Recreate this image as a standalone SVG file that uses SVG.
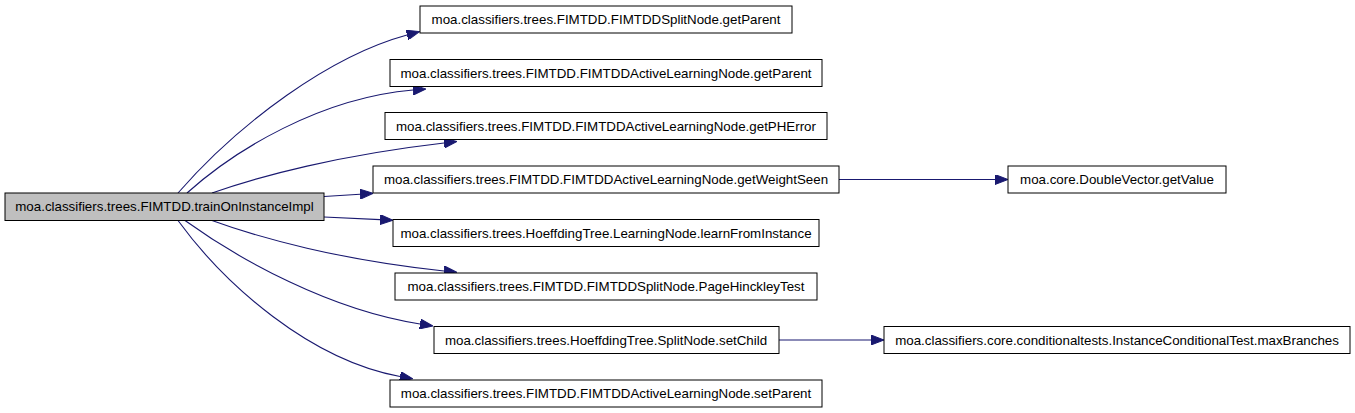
<svg xmlns="http://www.w3.org/2000/svg" width="1355" height="413" viewBox="0 0 1355 413">
<style>
.n rect{fill:#ffffff;stroke:#000000;stroke-width:1}
.root rect{fill:#bfbfbf}
.n text{font-family:"Liberation Sans",Arial,Helvetica,sans-serif;font-size:13.33px;fill:#000000;text-anchor:middle}
.e path{fill:none;stroke:#191970;stroke-width:1.1}
</style>
<defs>
<marker id="ah" markerUnits="userSpaceOnUse" viewBox="0 0 13 10" refX="0" refY="5" markerWidth="13" markerHeight="10" orient="auto">
<path d="M0,0 L13,5 L0,10 Z" fill="#191970" stroke="#191970" stroke-width="1"/>
</marker>
</defs>
<rect width="1355" height="413" fill="#ffffff"/>
<g id="connectors" class="e">
<path d="M178,193 C240,122 330,56 407,35" marker-end="url(#ah)"/>
<path d="M187,193 C235,150 320,98 413,90" marker-end="url(#ah)"/>
<path d="M212,193 C260,176 340,155 444,143" marker-end="url(#ah)"/>
<path d="M324,196.5 L360,194.2" marker-end="url(#ah)"/>
<path d="M324,217 L380,219.6" marker-end="url(#ah)"/>
<path d="M212,220.5 C260,238 340,260 444,271" marker-end="url(#ah)"/>
<path d="M185,220.5 C240,260 330,310 420,324" marker-end="url(#ah)"/>
<path d="M178,220.5 C225,285 310,360 400,376.5" marker-end="url(#ah)"/>
<path d="M839,179.5 L995,179.5" marker-end="url(#ah)"/>
<path d="M779,340 L871,340" marker-end="url(#ah)"/>
</g>
<g id="node-root" class="n root">
<rect x="5" y="193" width="319" height="27.5"/>
<text x="164.5" y="211.3">moa.classifiers.trees.FIMTDD.trainOnInstanceImpl</text>
</g>
<g id="node-split-getParent" class="n">
<rect x="420" y="6" width="372" height="27"/>
<text x="606" y="24">moa.classifiers.trees.FIMTDD.FIMTDDSplitNode.getParent</text>
</g>
<g id="node-active-getParent" class="n">
<rect x="390" y="59.5" width="432" height="27"/>
<text x="606" y="77.5">moa.classifiers.trees.FIMTDD.FIMTDDActiveLearningNode.getParent</text>
</g>
<g id="node-getPHError" class="n">
<rect x="385" y="112.5" width="442" height="27"/>
<text x="606" y="130.5">moa.classifiers.trees.FIMTDD.FIMTDDActiveLearningNode.getPHError</text>
</g>
<g id="node-getWeightSeen" class="n">
<rect x="373" y="166" width="466" height="27"/>
<text x="606" y="184">moa.classifiers.trees.FIMTDD.FIMTDDActiveLearningNode.getWeightSeen</text>
</g>
<g id="node-learnFromInstance" class="n">
<rect x="393" y="219.5" width="426" height="27"/>
<text x="606" y="237.5">moa.classifiers.trees.HoeffdingTree.LearningNode.learnFromInstance</text>
</g>
<g id="node-PageHinckleyTest" class="n">
<rect x="395" y="273" width="422" height="27"/>
<text x="606" y="291">moa.classifiers.trees.FIMTDD.FIMTDDSplitNode.PageHinckleyTest</text>
</g>
<g id="node-setChild" class="n">
<rect x="434" y="326.5" width="345" height="27"/>
<text x="606" y="344.5">moa.classifiers.trees.HoeffdingTree.SplitNode.setChild</text>
</g>
<g id="node-setParent" class="n">
<rect x="390" y="380" width="432" height="27"/>
<text x="606" y="398">moa.classifiers.trees.FIMTDD.FIMTDDActiveLearningNode.setParent</text>
</g>
<g id="node-getValue" class="n">
<rect x="1008" y="166" width="218" height="27"/>
<text x="1117" y="184">moa.core.DoubleVector.getValue</text>
</g>
<g id="node-maxBranches" class="n">
<rect x="884" y="326.5" width="466" height="27"/>
<text x="1117" y="344.5">moa.classifiers.core.conditionaltests.InstanceConditionalTest.maxBranches</text>
</g>
</svg>
